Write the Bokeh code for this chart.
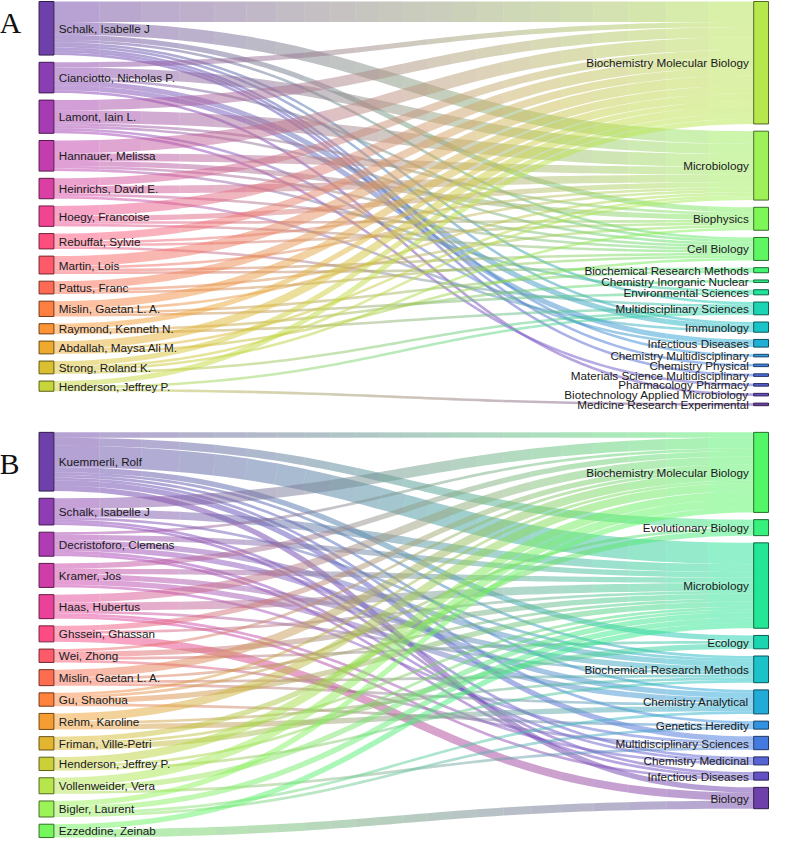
import math
from bokeh.plotting import figure
from bokeh.models import Range1d
from bokeh.core.properties import value
from bokeh.embed import file_html
from bokeh.resources import INLINE

# ---------------- Panel A data ----------------
a_authors = ["Schalk, Isabelle J", "Cianciotto, Nicholas P.", "Lamont, Iain L.",
             "Hannauer, Melissa", "Heinrichs, David E.", "Hoegy, Francoise",
             "Rebuffat, Sylvie", "Martin, Lois", "Pattus, Franc", "Mislin, Gaetan L. A.",
             "Raymond, Kenneth N.", "Abdallah, Maysa Ali M.", "Strong, Roland K.",
             "Henderson, Jeffrey P."]
a_categories = ["Biochemistry Molecular Biology", "Microbiology", "Biophysics", "Cell Biology",
                "Biochemical Research Methods", "Chemistry Inorganic Nuclear",
                "Environmental Sciences", "Multidisciplinary Sciences", "Immunology",
                "Infectious Diseases", "Chemistry Multidisciplinary", "Chemistry Physical",
                "Materials Science Multidisciplinary", "Pharmacology Pharmacy",
                "Biotechnology Applied Microbiology", "Medicine Research Experimental"]
a_src = ["Schalk, Isabelle J"] * 9 + ["Cianciotto, Nicholas P."] * 6 + ["Lamont, Iain L."] * 6 \
    + ["Hannauer, Melissa"] * 5 + ["Heinrichs, David E."] * 4 + ["Hoegy, Francoise"] * 4 \
    + ["Rebuffat, Sylvie"] * 4 + ["Martin, Lois"] * 4 + ["Pattus, Franc"] * 3 \
    + ["Mislin, Gaetan L. A."] * 4 + ["Raymond, Kenneth N."] * 3 \
    + ["Abdallah, Maysa Ali M."] * 3 + ["Strong, Roland K."] * 4 + ["Henderson, Jeffrey P."] * 3
a_tgt = ["Biochemistry Molecular Biology", "Microbiology", "Biophysics", "Cell Biology",
         "Multidisciplinary Sciences", "Immunology", "Chemistry Multidisciplinary",
         "Chemistry Physical", "Materials Science Multidisciplinary",
         "Biochemistry Molecular Biology", "Microbiology", "Cell Biology", "Immunology",
         "Infectious Diseases", "Biotechnology Applied Microbiology",
         "Biochemistry Molecular Biology", "Microbiology", "Biophysics", "Cell Biology",
         "Infectious Diseases", "Pharmacology Pharmacy",
         "Biochemistry Molecular Biology", "Microbiology", "Biophysics", "Cell Biology",
         "Environmental Sciences",
         "Biochemistry Molecular Biology", "Microbiology", "Immunology", "Cell Biology",
         "Biochemistry Molecular Biology", "Microbiology", "Biophysics", "Cell Biology",
         "Biochemistry Molecular Biology", "Microbiology", "Biophysics", "Multidisciplinary Sciences",
         "Biochemistry Molecular Biology", "Microbiology", "Cell Biology", "Biochemical Research Methods",
         "Biochemistry Molecular Biology", "Biophysics", "Cell Biology",
         "Biochemistry Molecular Biology", "Microbiology", "Biochemical Research Methods",
         "Environmental Sciences",
         "Biochemistry Molecular Biology", "Chemistry Inorganic Nuclear", "Multidisciplinary Sciences",
         "Biochemistry Molecular Biology", "Microbiology", "Cell Biology",
         "Biochemistry Molecular Biology", "Microbiology", "Biophysics", "Multidisciplinary Sciences",
         "Biochemistry Molecular Biology", "Multidisciplinary Sciences", "Medicine Research Experimental"]
a_val = [8, 5, 2, 1, 1, 1, 1, 1, 1,
         2, 4, 1, 2, 2, 1,
         4, 5, 1, 1, 1, 1,
         5, 3, 2, 1, 1,
         3, 3, 1, 1,
         4, 2, 1, 1,
         3, 1, 1, 1,
         4, 1, 1, 1,
         3, 1, 1,
         3, 1, 1, 1,
         2, 1, 1,
         3, 1, 1,
         2, 1, 1, 1,
         2, 1, 1]

# ---------------- Panel B data ----------------
b_authors = ["Kuemmerli, Rolf", "Schalk, Isabelle J", "Decristoforo, Clemens", "Kramer, Jos",
             "Haas, Hubertus", "Ghssein, Ghassan", "Wei, Zhong", "Mislin, Gaetan L. A.",
             "Gu, Shaohua", "Rehm, Karoline", "Friman, Ville-Petri", "Henderson, Jeffrey P.",
             "Vollenweider, Vera", "Bigler, Laurent", "Ezzeddine, Zeinab"]
b_categories = ["Biochemistry Molecular Biology", "Evolutionary Biology", "Microbiology", "Ecology",
                "Biochemical Research Methods", "Chemistry Analytical", "Genetics Heredity",
                "Multidisciplinary Sciences", "Chemistry Medicinal", "Infectious Diseases", "Biology"]
b_src = ["Kuemmerli, Rolf"] * 9 + ["Schalk, Isabelle J"] * 5 + ["Decristoforo, Clemens"] * 6 \
    + ["Kramer, Jos"] * 5 + ["Haas, Hubertus"] * 5 + ["Ghssein, Ghassan"] * 3 + ["Wei, Zhong"] * 4 \
    + ["Mislin, Gaetan L. A."] * 4 + ["Gu, Shaohua"] * 4 + ["Rehm, Karoline"] * 3 \
    + ["Friman, Ville-Petri"] * 3 + ["Henderson, Jeffrey P."] * 3 + ["Vollenweider, Vera"] * 3 \
    + ["Bigler, Laurent"] * 4 + ["Ezzeddine, Zeinab"] * 2
b_tgt = ["Biochemistry Molecular Biology", "Evolutionary Biology", "Microbiology", "Ecology",
         "Biochemical Research Methods", "Chemistry Analytical", "Genetics Heredity",
         "Multidisciplinary Sciences", "Biology",
         "Biochemistry Molecular Biology", "Microbiology", "Biochemical Research Methods",
         "Chemistry Medicinal", "Infectious Diseases",
         "Biochemistry Molecular Biology", "Microbiology", "Biochemical Research Methods",
         "Chemistry Analytical", "Chemistry Medicinal", "Infectious Diseases",
         "Biochemistry Molecular Biology", "Microbiology", "Biochemical Research Methods",
         "Chemistry Analytical", "Multidisciplinary Sciences",
         "Biochemistry Molecular Biology", "Microbiology", "Biochemical Research Methods",
         "Chemistry Medicinal", "Infectious Diseases",
         "Biochemistry Molecular Biology", "Microbiology", "Biology",
         "Biochemistry Molecular Biology", "Microbiology", "Ecology", "Multidisciplinary Sciences",
         "Biochemistry Molecular Biology", "Microbiology", "Biochemical Research Methods",
         "Chemistry Analytical",
         "Biochemistry Molecular Biology", "Evolutionary Biology", "Microbiology", "Genetics Heredity",
         "Biochemistry Molecular Biology", "Biochemical Research Methods", "Chemistry Analytical",
         "Evolutionary Biology", "Microbiology", "Ecology",
         "Biochemistry Molecular Biology", "Microbiology", "Biochemical Research Methods",
         "Biochemistry Molecular Biology", "Microbiology", "Multidisciplinary Sciences",
         "Biochemistry Molecular Biology", "Microbiology", "Chemistry Analytical", "Genetics Heredity",
         "Microbiology", "Biology"]
b_val = [2, 3, 8, 2, 1, 1, 1, 2, 2,
         4, 3, 1, 1, 1,
         1, 2, 2, 2, 1, 1,
         2, 2, 2, 2, 1,
         3, 3, 1, 1, 1,
         2, 1, 3,
         1, 2, 1, 1,
         3, 1, 1, 1,
         1, 1, 2, 1,
         3, 1, 2,
         2, 1, 2,
         3, 1, 1,
         3, 2, 1,
         2, 2, 1, 1,
         2, 3]


# ---------------- helpers ----------------
def rainbow(t):
    ts = abs(t - 0.5)
    h = 360.0 * t - 100.0
    s = 1.5 - 1.5 * ts
    l = 0.8 - 0.9 * ts
    hr = (h + 120.0) * math.pi / 180.0
    a = s * l * (1 - l)
    c, sn = math.cos(hr), math.sin(hr)
    r = 255 * (l + a * (-0.14861 * c + 1.78277 * sn))
    g = 255 * (l + a * (-0.29227 * c - 0.90649 * sn))
    b = 255 * (l + a * (1.97294 * c))
    return tuple(max(0.0, min(255.0, v)) for v in (r, g, b))


def hexc(rgb):
    return "#%02x%02x%02x" % tuple(int(round(v)) for v in rgb)


def build(p, left, right, src, tgt, val, y0, y1, xl, xr, nw, pad):
    nodes = left + right
    n = len(nodes)
    outv = {k: 0 for k in nodes}
    inv = {k: 0 for k in nodes}
    for s, t, v in zip(src, tgt, val):
        outv[s] += v
        inv[t] += v
    nval = {k: max(outv[k], inv[k]) for k in nodes}
    ky = min((y1 - y0 - (len(c) - 1) * pad) / sum(nval[k] for k in c) for c in (left, right))
    pos = {}
    for col, x in ((left, xl), (right, xr)):
        y = y0
        for k in col:
            pos[k] = [x, x + nw, y, y + nval[k] * ky]
            y += nval[k] * ky + pad
    col_of = {k: rainbow(i / (n - 1)) for i, k in enumerate(nodes)}

    links = list(range(len(src)))
    sy = {}
    for k in left:
        ls = sorted([i for i in links if src[i] == k], key=lambda i: (pos[tgt[i]][2], i))
        y = pos[k][2]
        for i in ls:
            w = val[i] * ky
            sy[i] = y + w / 2
            y += w
    ty = {}
    for k in right:
        ls = sorted([i for i in links if tgt[i] == k], key=lambda i: (pos[src[i]][2], i))
        y = pos[k][2]
        for i in ls:
            w = val[i] * ky
            ty[i] = y + w / 2
            y += w

    xs_all, ys_all, cols_all = [], [], []
    nslice, sub = 22, 3
    for i in links:
        w = val[i] * ky
        x0, x1 = xl + nw, xr
        ya, yb = sy[i], ty[i]
        xm = (x0 + x1) / 2
        c0, c1 = col_of[src[i]], col_of[tgt[i]]
        npts = nslice * sub
        up, lo, px = [], [], []
        for j in range(npts + 1):
            t = j / npts
            mt = 1 - t
            bx = mt ** 3 * x0 + 3 * mt * mt * t * xm + 3 * mt * t * t * xm + t ** 3 * x1
            by = mt ** 3 * ya + 3 * mt * mt * t * ya + 3 * mt * t * t * yb + t ** 3 * yb
            dx = 3 * mt * mt * (xm - x0) + 3 * t * t * (x1 - xm)
            dy = 6 * mt * t * (yb - ya)
            ln = math.hypot(dx, dy) or 1.0
            nx, ny = -dy / ln, dx / ln
            up.append((bx + nx * w / 2, by + ny * w / 2))
            lo.append((bx - nx * w / 2, by - ny * w / 2))
            px.append(bx)
        for sidx in range(nslice):
            a, b = sidx * sub, (sidx + 1) * sub
            pu = up[a:b + 1]
            pl = lo[a:b + 1][::-1]
            xs_all.append([q[0] for q in pu] + [q[0] for q in pl])
            ys_all.append([q[1] for q in pu] + [q[1] for q in pl])
            xmid = (px[a] + px[b]) / 2
            f = min(1.0, max(0.0, (xmid - x0) / (x1 - x0)))
            cols_all.append(hexc(tuple(c0[k] + (c1[k] - c0[k]) * f for k in range(3))))
    p.patches(xs_all, ys_all, fill_color=cols_all, fill_alpha=0.5, line_color=None)

    L, R, T, B, FC, LC = [], [], [], [], [], []
    for k in nodes:
        x0, x1, ya, yb = pos[k]
        L.append(x0); R.append(x1); T.append(ya); B.append(yb)
        c = col_of[k]
        FC.append(hexc(c))
        LC.append(hexc(tuple(v * 0.45 for v in c)))
    p.quad(left=L, right=R, top=T, bottom=B, fill_color=FC, line_color=LC, line_width=1)

    lx = [pos[k][1] + 5 for k in left]
    ly = [(pos[k][2] + pos[k][3]) / 2 for k in left]
    p.text(lx, ly, text=left, text_font=value("Liberation Sans"), text_font_size="11.7px",
           text_baseline="middle", text_align="left", text_color="#1a1a1a")
    rx = [pos[k][0] - 5 for k in right]
    ry = [(pos[k][2] + pos[k][3]) / 2 for k in right]
    p.text(rx, ry, text=right, text_font=value("Liberation Sans"), text_font_size="11.7px",
           text_baseline="middle", text_align="right", text_color="#1a1a1a")


p = figure(width=770, height=841, x_range=Range1d(3, 782), y_range=Range1d(853, 2),
           output_backend="svg", toolbar_location=None, min_border=0)
p.axis.visible = False
p.grid.visible = False
p.outline_line_color = None

build(p, a_authors, a_categories, a_src, a_tgt, a_val, 3, 412, 42, 765, 15, 7.3)
build(p, b_authors, b_categories, b_src, b_tgt, b_val, 439, 849, 42, 765, 15, 7.3)

p.text([2, 2], [24, 470], text=["A", "B"], text_font=value("Liberation Serif"),
       text_font_size="30px", text_baseline="middle", text_align="left", text_color="#111111")

open("out.html", "w").write(file_html(p, INLINE))
